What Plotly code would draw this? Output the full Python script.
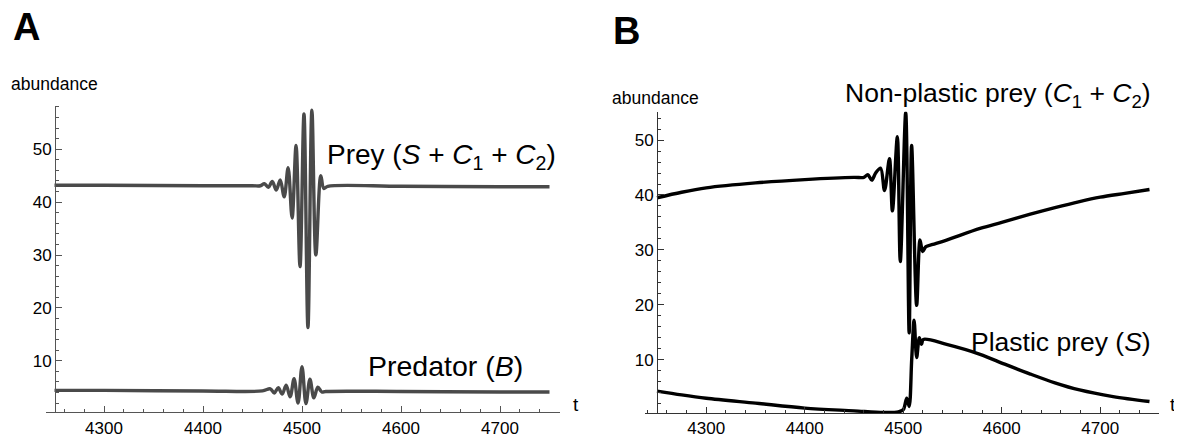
import plotly.graph_objects as go

# ---------------- data ----------------
# Panel A: total prey (S + C1 + C2)
a_prey_t = [4250, 4300, 4400, 4450, 4458, 4462, 4466, 4470, 4474, 4478, 4482, 4486, 4490, 4494,
            4498, 4502, 4506, 4510, 4514, 4519, 4522, 4526, 4600, 4700, 4750]
a_prey_y = [43.2, 43.2, 43.1, 43.1, 43.1, 43.5, 42.8, 43.9, 42.3, 44.2, 41.0, 46.5, 37.0, 50.7,
            27.8, 56.7, 16.3, 57.4, 30.0, 45.0, 42.6, 43.0, 43.0, 42.9, 42.9]
# Panel A: predator B
a_pred_t = [4250, 4300, 4400, 4460, 4468, 4472, 4476, 4480, 4484, 4488, 4492, 4496, 4500, 4504,
            4508, 4512, 4516, 4520, 4524, 4600, 4700, 4750]
a_pred_y = [4.4, 4.4, 4.3, 4.3, 4.7, 3.9, 4.9, 3.7, 5.4, 3.2, 6.6, 2.0, 8.9, 1.9,
            6.5, 3.0, 5.0, 4.1, 4.2, 4.2, 4.1, 4.1]

# Panel B: non-plastic prey (C1 + C2)
b_np_t = [4250, 4275, 4300, 4350, 4400, 4450, 4460, 4464, 4468, 4472, 4477, 4481, 4486, 4489,
          4494, 4497, 4502.5, 4506, 4508.5, 4513.6, 4517, 4519.7, 4523, 4530, 4544, 4578,
          4600, 4629, 4654, 4679, 4700, 4725, 4750]
b_np_y = [39.5, 40.5, 41.3, 42.2, 42.8, 43.2, 43.2, 43.7, 42.7, 44.0, 44.9, 40.8, 46.6, 37.1,
          50.6, 27.9, 55.0, 14.9, 49.0, 19.9, 31.8, 29.7, 30.6, 31.0, 31.8, 33.9,
          35.0, 36.5, 37.7, 38.8, 39.6, 40.3, 41.0]
# Panel B: plastic prey (S)
b_pl_t = [4250, 4275, 4300, 4350, 4400, 4450, 4480, 4495, 4500, 4503.5, 4506, 4508.6, 4511,
          4513.6, 4516.3, 4518.5, 4520.4, 4544, 4578, 4603, 4629, 4654, 4679, 4713, 4750]
b_pl_y = [4.3, 3.6, 3.0, 2.1, 1.2, 0.7, 0.4, 0.5, 0.9, 3.0, 1.5, 10.1, 17.2,
          10.4, 14.0, 12.8, 13.7, 12.8, 11.0, 9.2, 7.4, 5.8, 4.5, 3.3, 2.4]

x_ticks = [4300, 4400, 4500, 4600, 4700]
y_ticks = [10, 20, 30, 40, 50]

# ---------------- layout helpers ----------------
# the page body has an 8 px margin, so the figure is drawn 8 px in from the window corner
OFF = 8
W, H = 1182 - 2 * OFF, 446 - 2 * OFF
FONT = "Liberation Sans, Arial, Helvetica, sans-serif"


def fx(px):
    return (px - OFF) / W


def fy(py):
    return (H - (py - OFF)) / H


fig = go.Figure()

grayA = "#4a4a4a"
fig.add_trace(go.Scatter(x=a_prey_t, y=a_prey_y, mode="lines", xaxis="x", yaxis="y",
                         line=dict(color=grayA, width=3.4, shape="spline", smoothing=1.0),
                         showlegend=False, hoverinfo="skip"))
fig.add_trace(go.Scatter(x=a_pred_t, y=a_pred_y, mode="lines", xaxis="x", yaxis="y",
                         line=dict(color=grayA, width=3.4, shape="spline", smoothing=1.0),
                         showlegend=False, hoverinfo="skip"))
fig.add_trace(go.Scatter(x=b_np_t, y=b_np_y, mode="lines", xaxis="x2", yaxis="y2",
                         line=dict(color="#000000", width=3.4, shape="spline", smoothing=0.9),
                         showlegend=False, hoverinfo="skip"))
fig.add_trace(go.Scatter(x=b_pl_t, y=b_pl_y, mode="lines", xaxis="x2", yaxis="y2",
                         line=dict(color="#000000", width=3.4, shape="spline", smoothing=0.9),
                         showlegend=False, hoverinfo="skip"))

tickfont = dict(family=FONT, size=17, color="#000")


def xaxis_cfg(d0, d1, r0, r1, anchor, color):
    return dict(domain=[fx(d0), fx(d1)], range=[r0, r1], anchor=anchor,
                showgrid=False, zeroline=False, showline=True, linecolor=color, linewidth=1,
                ticks="inside", ticklen=6, tickcolor=color, tickwidth=1,
                tickvals=x_ticks, ticktext=[str(v) for v in x_ticks], tickfont=tickfont,
                minor=dict(dtick=20, tick0=4240, ticks="inside", ticklen=3, tickcolor=color,
                           showgrid=False),
                fixedrange=True)


def yaxis_cfg(d0, d1, r0, r1, pos, color):
    return dict(domain=[fy(d1), fy(d0)], range=[r0, r1], anchor="free", position=fx(pos),
                showgrid=False, zeroline=False, showline=True, linecolor=color, linewidth=1,
                ticks="inside", ticklen=6, tickcolor=color, tickwidth=1,
                tickvals=y_ticks, ticktext=[str(v) for v in y_ticks], tickfont=tickfont,
                minor=dict(dtick=2, tick0=0, ticks="inside", ticklen=3, tickcolor=color,
                           showgrid=False),
                fixedrange=True)


# Panel A: x px 46..560 ; 4300 -> 104, 0.99 px/unit
xa0 = 4300 - (104 - 46) / 0.99
xa1 = 4300 + (560 - 104) / 0.99
# Panel B: x px 645..1159 ; 4250 -> 657, 0.985 px/unit
xb0 = 4250 - (657 - 645) / 0.985
xb1 = 4250 + (1159 - 657) / 0.985

fig.update_layout(
    width=W, height=H,
    margin=dict(l=0, r=0, t=0, b=0),
    paper_bgcolor="white", plot_bgcolor="white",
    xaxis=xaxis_cfg(46, 560, xa0, xa1, "y", "#555"),
    yaxis=yaxis_cfg(108, 421, 0.25, 58.2, 55, "#555"),
    xaxis2=xaxis_cfg(645, 1159, xb0, xb1, "y2", "#333"),
    yaxis2=yaxis_cfg(114, 421.7, 0.3, 55.15, 657, "#333"),
)

ann = []


def text(px, py, s, size, xanchor="left"):
    ann.append(dict(x=fx(px), y=fy(py), xref="paper", yref="paper", text=s, showarrow=False,
                    xanchor=xanchor, yanchor="middle",
                    font=dict(family=FONT, size=size, color="#000")))


text(11, 27, "<b>A</b>", 38)
text(611, 32, "<b>B</b>", 38)
text(9, 86, "abundance", 17.5)
text(610, 100, "abundance", 17.5)
text(571, 413, "t", 19)
text(1168, 413, "t", 19)
text(558, 160, "Prey (<i>S</i> + <i>C</i><sub>1</sub> + <i>C</i><sub>2</sub>)", 28, "right")
text(366, 374, "Predator (<i>B</i>)", 28.5, "left")
text(1153, 97, "Non-plastic prey (<i>C</i><sub>1</sub> + <i>C</i><sub>2</sub>)", 26.5, "right")
text(1153, 349, "Plastic prey (<i>S</i>)", 26.5, "right")
fig.update_layout(annotations=ann)

fig.write_html("out.html")
